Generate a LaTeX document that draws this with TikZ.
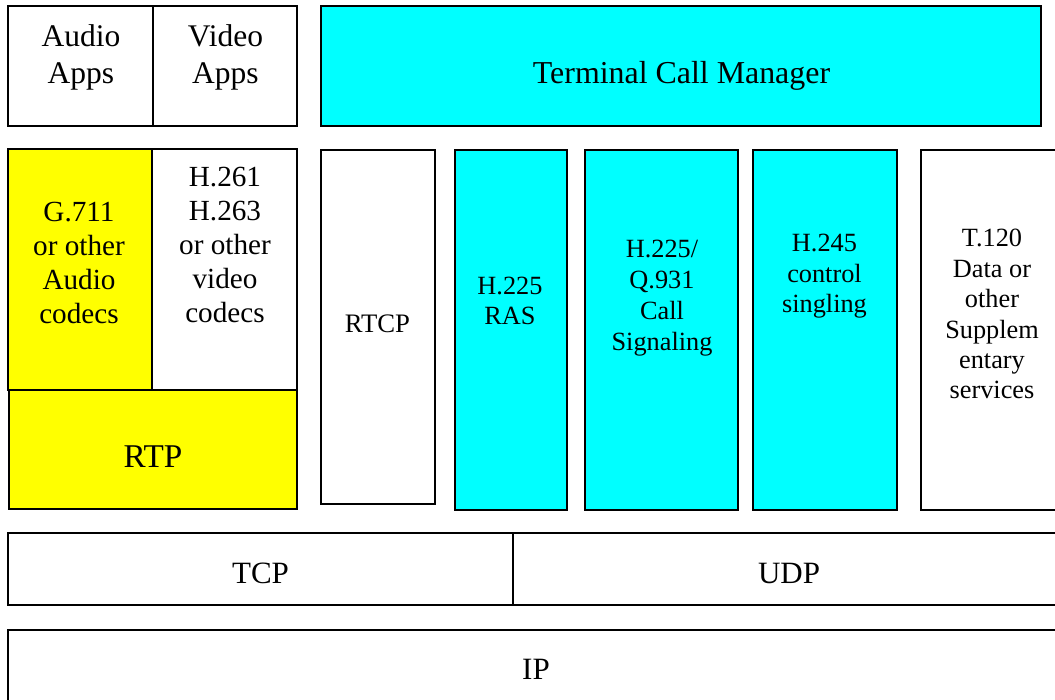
\documentclass[tikz,border=0pt]{standalone}
\usepackage{fontspec}
\setmainfont{Liberation Serif}
\definecolor{cyanbox}{HTML}{00FFFF}
\definecolor{yellowbox}{HTML}{FFFF00}
\begin{document}
\begin{tikzpicture}[x=1pt,y=-1pt,
  box/.style={draw=black,line width=2pt,inner sep=0pt,outer sep=0pt,anchor=north west},
  lbl/.style 2 args={align=center,inner sep=0pt,font=\fontsize{#1}{#2}\selectfont,text=black}]
\useasboundingbox (0,0) rectangle (1055,700);
\clip (0,0) rectangle (1055,700);
% boxes
\newcommand{\bx}[6]{\node[box,fill=#2,minimum width=#5-#3,minimum height=#6-#4] (#1) at (#3,#4) {};}
\bx{audio}{white}{8}{6}{153}{126}
\bx{video}{white}{153}{6}{297}{126}
\bx{tcm}{cyanbox}{321}{6}{1041}{126}
\bx{g711}{yellowbox}{8}{149}{152}{390}
\bx{h261}{white}{152}{149}{297}{390}
\bx{rtp}{yellowbox}{9}{390}{297}{509}
\bx{rtcp}{white}{321}{150}{435}{504}
\bx{ras}{cyanbox}{455}{150}{567}{510}
\bx{q931}{cyanbox}{585}{150}{738}{510}
\bx{h245}{cyanbox}{753}{150}{897}{510}
\bx{t120}{white}{921}{150}{1065}{510}
\bx{tcp}{white}{8}{533}{513}{605}
\bx{udp}{white}{513}{533}{1065}{605}
\bx{ip}{white}{8}{630}{1065}{712}
% labels
\node[lbl={31.5}{37.6}] (taudio) at (81,57.3) {\strut Audio\\\strut Apps};
\node[lbl={31.5}{37.6}] (tvideo) at (225.5,57.3) {\strut Video\\\strut Apps};
\node[lbl={31.9}{36.7}] (ttcm) at (681.5,75.7) {\strut Terminal Call Manager};
\node[lbl={29.2}{33.7}] (tg711) at (79,265.8) {\strut G.711\\\strut or other\\\strut Audio\\\strut codecs};
\node[lbl={29.2}{34}] (th261) at (225,248.2) {\strut H.261\\\strut H.263\\\strut or other\\\strut video\\\strut codecs};
\node[lbl={33.2}{38}] (trtp) at (153,459.4) {\strut RTP};
\node[lbl={26.7}{30.5}] (trtcp) at (377.5,326.9) {\strut RTCP};
\node[lbl={26.3}{30}] (tras) at (510,304) {\strut H.225\\\strut RAS};
\node[lbl={26.3}{31}] (tq931) at (662,298.3) {\strut H.225/\\\strut Q.931\\\strut Call\\\strut Signaling};
\node[lbl={26.3}{30.5}] (th245) at (824.5,276.4) {\strut H.245\\\strut control\\\strut singling};
\node[lbl={26.3}{30.4}] (tt120) at (992,316.9) {\strut T.120\\\strut Data or\\\strut other\\\strut Supplem\\\strut entary\\\strut services};
\node[lbl={31}{36}] (ttcp) at (260.5,575.8) {\strut TCP};
\node[lbl={31}{36}] (tudp) at (789,575.8) {\strut UDP};
\node[lbl={31}{36}] (tip) at (536,671.8) {\strut IP};
\end{tikzpicture}
\end{document}
